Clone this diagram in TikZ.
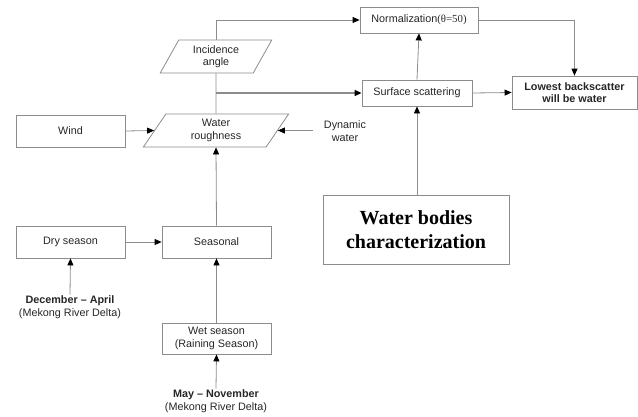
\documentclass[tikz,border=0pt]{standalone}
\usepackage{fontspec}
\setmainfont{Liberation Sans}
\newfontfamily\timesrm{Liberation Serif}
\usepackage{tikz}
\usetikzlibrary{positioning, arrows.meta, shapes.geometric}

\begin{document}
\begin{tikzpicture}[
    x=1pt, y=-1pt,
    every node/.style={font=\fontsize{10.8}{12.5}\selectfont, text=black!85, align=center, inner sep=1pt},
    box/.style={draw=black!45, line width=0.8pt, minimum height=32},
    slanted/.style={draw=black!45, line width=0.8pt, trapezium, trapezium left angle=64, trapezium right angle=116,
        trapezium stretches=true, minimum height=33},
    flow/.style={draw=black!45, line width=0.8pt, -{Triangle[color=black, length=7pt, width=6pt]}},
    link/.style={draw=black!45, line width=0.8pt}
]
\useasboundingbox (0,0) rectangle (638,416);

% top row
\node[box, minimum width=118, minimum height=26] (norm) at (419,20) {Normalization{\timesrm(θ=50)}};
\node[box, minimum width=110, minimum height=26] (surf) at (417,93) {Surface scattering};
\node[box, minimum width=125, minimum height=33, font=\fontsize{10.8}{12.5}\selectfont\bfseries] (low) at (574.5,92.5) {Lowest backscatter\\will be water};

% parameters
\node[slanted, minimum width=112] (incid) at (216,56.5) {Incidence\\angle};
\node[slanted, minimum width=146] (rough) at (216,130.5) {Water\\roughness};
\node[box, minimum width=109] (wind) at (70.5,131) {Wind};
\node (dyn) at (345,131) {Dynamic\\water};

% seasons
\node[box, minimum width=109] (seas) at (216.5,242) {Seasonal};
\node[box, minimum width=109] (dry) at (70.5,242) {Dry season};
\node[box, minimum width=109, minimum height=31] (wet) at (216.5,338.5) {Wet season\\(Raining Season)};
\node (decapr) at (70,307) {\textbf{December -- April}\\(Mekong River Delta)};
\node (maynov) at (216,401) {\textbf{May -- November}\\(Mekong River Delta)};

\node[box, minimum width=186, minimum height=69, font=\timesrm\bfseries\fontsize{20}{24}\selectfont, text=black] (wbc) at (416,229.5) {Water bodies\\characterization};

% connectors
\coordinate (split) at (rough.north |- surf.west);
\draw[flow] (incid.north) |- (norm.west);
\draw[link] (rough.north) -- (incid.south);
\draw[flow, line width=1.3pt] (split) -- (surf.west);
\draw[flow] (surf.north) -- (norm.south);
\draw[flow] (surf.east) -- (low.west);
\draw[flow] (norm.east) -| (low.north);
\draw[flow] (wbc.north -| surf.south) -- (surf.south);
\draw[flow] (wind.east) -- (rough.west);
\draw[flow] (dyn.west |- rough.east) ++(-10,0) -- (rough.east);
\draw[flow] (seas.north) -- (rough.south);
\draw[flow] (dry.east) -- (seas.west);
\draw[flow] (wet.north) -- (seas.south);
\draw[flow] (decapr.north) -- (dry.south);
\draw[flow] (maynov.north) -- (wet.south);
\end{tikzpicture}
\end{document}
